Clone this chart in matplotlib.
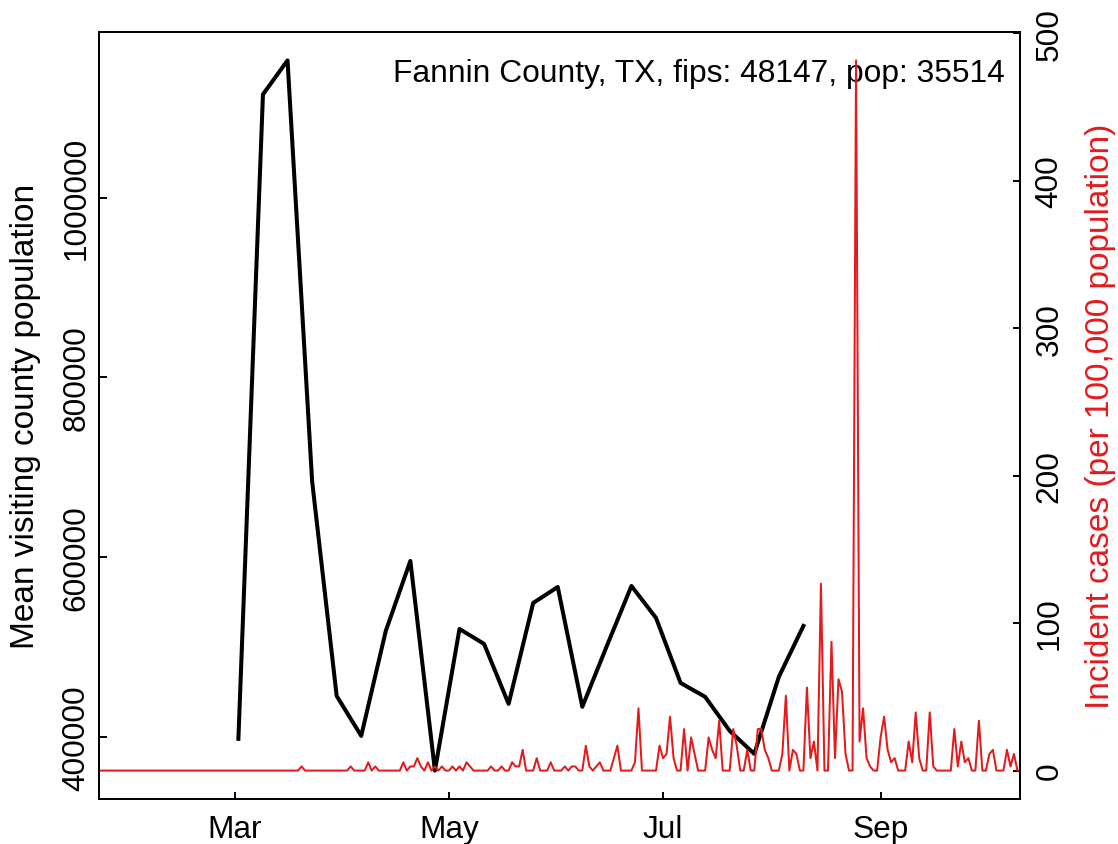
import numpy as np
import pandas as pd
import matplotlib
matplotlib.use("Agg")
import matplotlib.pyplot as plt
import matplotlib.dates as mdates

plt.rcParams['font.family'] = ['Liberation Sans', 'DejaVu Sans']

county = "Fannin County, TX, fips: 48147, pop: 35514"
pop = 35514
red = "#E41A1C"

# weekly mean visiting county population (weeks starting Monday)
week_start = "2020-03-02"
visit_pop = [398100, 1114800, 1152600, 685000, 445900, 401400, 518100, 596000,
             362800, 520300, 503700, 437000, 549200, 567000, 433700, 501500,
             568100, 532600, 460300, 444800, 407000, 381400, 467000, 523700]

# daily new cases (days not listed are 0)
case_dates = ["2020-03-20", "2020-04-03", "2020-04-08", "2020-04-10", "2020-04-18",
              "2020-04-20", "2020-04-21", "2020-04-22", "2020-04-23", "2020-04-25",
              "2020-04-27", "2020-04-29", "2020-05-02", "2020-05-04", "2020-05-06",
              "2020-05-07", "2020-05-13", "2020-05-16", "2020-05-19", "2020-05-20",
              "2020-05-21", "2020-05-22", "2020-05-26", "2020-05-30", "2020-06-03",
              "2020-06-05", "2020-06-06", "2020-06-09", "2020-06-10", "2020-06-12",
              "2020-06-13", "2020-06-17", "2020-06-18", "2020-06-23", "2020-06-24",
              "2020-06-30", "2020-07-01", "2020-07-02", "2020-07-03", "2020-07-04",
              "2020-07-07", "2020-07-09", "2020-07-10", "2020-07-14", "2020-07-15",
              "2020-07-16", "2020-07-17", "2020-07-21", "2020-07-22", "2020-07-25",
              "2020-07-28", "2020-07-29", "2020-07-30", "2020-07-31", "2020-08-04",
              "2020-08-05", "2020-08-07", "2020-08-08", "2020-08-11", "2020-08-12",
              "2020-08-13", "2020-08-15", "2020-08-18", "2020-08-19", "2020-08-20",
              "2020-08-21", "2020-08-22", "2020-08-25", "2020-08-26", "2020-08-27",
              "2020-08-28", "2020-08-29", "2020-09-01", "2020-09-02", "2020-09-03",
              "2020-09-04", "2020-09-05", "2020-09-09", "2020-09-10", "2020-09-11",
              "2020-09-12", "2020-09-15", "2020-09-16", "2020-09-22", "2020-09-23",
              "2020-09-24", "2020-09-25", "2020-09-26", "2020-09-29", "2020-10-02",
              "2020-10-03", "2020-10-07", "2020-10-08", "2020-10-09"]
case_counts = [1, 1, 2, 1, 2,
               1, 1, 3, 1, 2,
               1, 1, 1, 1, 2,
               1, 1, 1, 2, 1,
               1, 5, 3, 2, 1,
               1, 1, 6, 1, 1,
               2, 3, 6, 2, 15,
               6, 3, 4, 13, 3,
               10, 8, 4, 8, 5,
               3, 12, 10, 6, 5,
               10, 10, 5, 3, 4,
               18, 5, 4, 20, 3,
               7, 45, 31, 3, 22,
               19, 4, 171, 7, 15,
               3, 1, 8, 13, 5,
               2, 3, 7, 2, 14,
               3, 14, 1, 10, 1,
               7, 2, 3, 12, 4,
               5, 5, 1, 4]

days = pd.date_range("2020-01-22", "2020-10-11", freq="D")
cases = pd.Series(0.0, index=days)
cases[pd.to_datetime(case_dates)] = case_counts
incidence = cases / pop * 1e5

weeks = pd.date_range(week_start, periods=len(visit_pop), freq="7D")

fig = plt.figure(figsize=(11.18, 8.45), dpi=100)
ax = fig.add_axes([99 / 1118, 45 / 845, 921 / 1118, 767 / 845])
ax.plot(weeks, visit_pop, color="black", lw=2.9)
ax.margins(y=0.04)

ax2 = ax.twinx()
ax2.plot(days, incidence, color=red, lw=1.45)
ax2.margins(y=0.04)

# R style: xlim Feb 1 - Oct 1 plus 4% padding
x0 = mdates.date2num(pd.Timestamp("2020-02-01"))
x1 = mdates.date2num(pd.Timestamp("2020-10-01"))
pad = 0.04 * (x1 - x0)
ax.set_xlim(x0 - pad, x1 + pad)

months = pd.to_datetime(["2020-03-01", "2020-05-01", "2020-07-01", "2020-09-01"])
ax.set_xticks(months, ["Mar", "May", "Jul", "Sep"])

lticks = [400000, 600000, 800000, 1000000]
ax.set_yticks(lticks, [str(t) for t in lticks], rotation=90, va="center")
rticks = [0, 100, 200, 300, 400, 500]
ax2.set_yticks(rticks, [str(t) for t in rticks], rotation=90, va="center")

ax.tick_params(axis="x", direction="in", length=5.4, width=1.4, labelsize=22.8, pad=10.8)
ax.tick_params(axis="y", direction="in", length=5.4, width=1.4, labelsize=22.8, pad=5.3)
ax2.tick_params(axis="y", direction="in", length=5.4, width=1.4, labelsize=22.8, pad=10.4)
for a in (ax, ax2):
    for s in a.spines.values():
        s.set_linewidth(1.4)

ax.text(0.9837, 0.9465, county, transform=ax.transAxes, ha="right", va="center",
        fontsize=22.9)

fig.text(26 / 1118, 1 - 416.5 / 845, "Mean visiting county population", rotation=90,
         ha="center", va="center", fontsize=24)
fig.text(1101 / 1118, 1 - 416.5 / 845, "Incident cases (per 100,000 population)",
         rotation=90, ha="center", va="center", fontsize=24, color=red)

fig.savefig("out.png", dpi=100)
